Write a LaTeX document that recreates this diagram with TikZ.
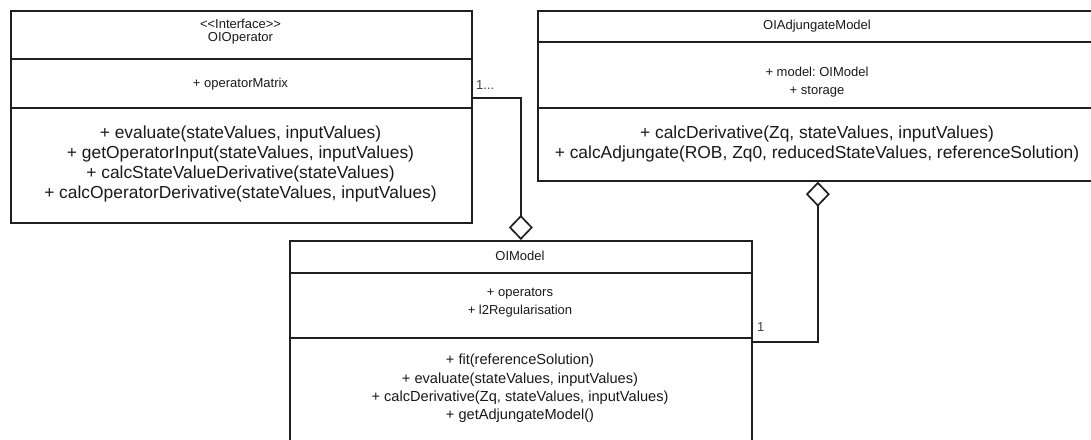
\documentclass[tikz,border=0pt]{standalone}
\usepackage{fontspec}
\setmainfont{Liberation Sans}
\usetikzlibrary{arrows.meta}
\frenchspacing
\begin{document}
\begin{tikzpicture}[x=1pt,y=-1pt,
  ln/.style={draw=black!88, line width=1.7pt},
  cmp/.style={ln, rectangle, inner sep=0pt, anchor=north west},
  txt/.style={align=center, inner sep=0pt, text=black!90},
  big/.style={txt, font=\fontsize{17.4}{20.3}\selectfont},
  small/.style={txt, font=\fontsize{13}{17.5}\selectfont},
  mid/.style={txt, font=\fontsize{14.6}{18.4}\selectfont},
  mult/.style={inner sep=0pt, anchor=west, text=black!75, font=\fontsize{13}{15}\selectfont},
  agg/.style={ln, -{Diamond[open, length=25pt, width=24pt]}},
]
\useasboundingbox (0,0) rectangle (1091,439);
\clip (0,0) rectangle (1091,439);

% OIOperator (interface)
\node[cmp, minimum width=461pt, minimum height=48pt]  (opTitle) at (10,10) {};
\node[cmp, minimum width=461pt, minimum height=49pt]  (opAttr)  at (10,58) {};
\node[cmp, minimum width=461pt, minimum height=115pt] (opOps)   at (10,107) {};
\node[small, font=\fontsize{13}{13.5}\selectfont] (opName) at (240.5,31.5) {<{}<Interface>{}>\\OIOperator};
\node[small] (opAttrTxt) at (240.5,84.5) {+ operatorMatrix};
\node[big] (opOpsTxt) at (240.5,164) {+ evaluate(stateValues, inputValues)\\
  + getOperatorInput(stateValues, inputValues)\\
  + calcStateValueDerivative(stateValues)\\
  + calcOperatorDerivative(stateValues, inputValues)};

% OIAdjungateModel
\node[cmp, minimum width=560pt, minimum height=31pt] (adjTitle) at (537,10) {};
\node[cmp, minimum width=560pt, minimum height=66pt] (adjAttr)  at (537,41) {};
\node[cmp, minimum width=560pt, minimum height=73pt] (adjOps)   at (537,107) {};
\node[small] (adjName) at (817,26) {OIAdjungateModel};
\node[small] (adjAttrTxt) at (817,82) {+ model: OIModel\\+ storage};
\node[big] (adjOpsTxt) at (817,144) {+ calcDerivative(Zq, stateValues, inputValues)\\
  + calcAdjungate(ROB, Zq0, reducedStateValues, referenceSolution)};

% OIModel
\node[cmp, minimum width=462pt, minimum height=32pt]  (mTitle) at (289,240) {};
\node[cmp, minimum width=462pt, minimum height=65pt]  (mAttr)  at (289,272) {};
\node[cmp, minimum width=462pt, minimum height=130pt] (mOps)   at (289,337) {};
\node[small] (mName) at (520,256) {OIModel};
\node[small] (mAttrTxt) at (520,302.5) {+ operators\\+ l2Regularisation};
\node[mid] (mOpsTxt) at (520,388.5) {+ fit(referenceSolution)\\
  + evaluate(stateValues, inputValues)\\
  + calcDerivative(Zq, stateValues, inputValues)\\
  + getAdjungateModel()};

% aggregations
\coordinate (opPort) at ([yshift=-14.5pt]opAttr.east);
\coordinate (mPort)  at ([yshift=-5pt]mOps.north east);
\draw[agg] (opPort) -| (mTitle.north);
\draw[agg] (mPort) -| (adjOps.south);
\node[mult] (opMult) at (476,85) {1...};
\node[mult] (mMult)  at (757,327) {1};
\end{tikzpicture}
\end{document}
